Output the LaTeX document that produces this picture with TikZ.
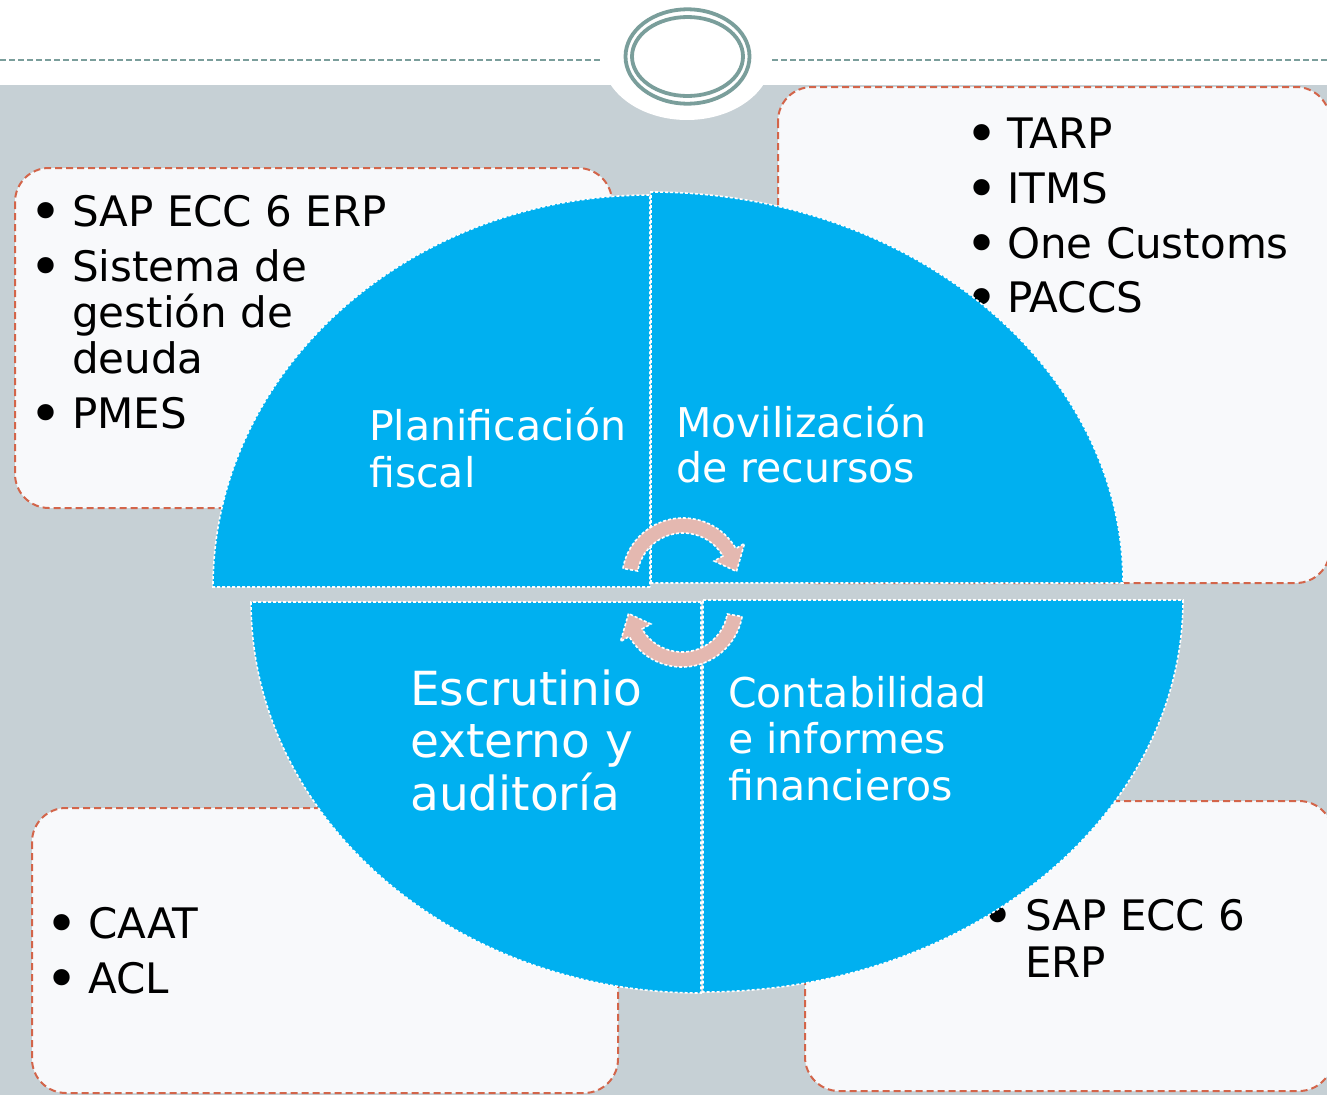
\documentclass[tikz,border=0pt]{standalone}
\usepackage{fontspec}
\setmainfont{DejaVu Sans}
\definecolor{bggray}{HTML}{C6D0D5}
\definecolor{ringcol}{HTML}{7A9E9B}
\definecolor{boxfill}{HTML}{F8F9FB}
\definecolor{boxline}{HTML}{D3654A}
\definecolor{segblue}{HTML}{00B0F0}
\definecolor{arrowpink}{HTML}{E4B8B0}
\begin{document}
\begin{tikzpicture}[x=1pt,y=1pt,
  seg/.style={fill=segblue, draw=white, line width=1.6pt, dash pattern=on 3pt off 2pt},
  infobox/.style={fill=boxfill, draw=boxline, line width=2pt, dash pattern=on 7pt off 4pt, rounded corners=34pt},
  arr/.style={fill=arrowpink, draw=white, line width=1.6pt, dash pattern=on 3pt off 2pt},
  boxtxt/.style={anchor=base west, inner sep=0pt, text=black, font=\fontsize{42}{46}\selectfont},
  bul/.style={anchor=base, inner sep=0pt, text=black, yshift=-5pt, font=\fontsize{56}{60}\selectfont},
  segtxt/.style={anchor=base west, inner sep=0pt, text=white, font=\fontsize{41}{46.5}\selectfont},
  bigtxt/.style={anchor=base west, inner sep=0pt, text=white, font=\fontsize{47}{52.5}\selectfont},
  ring/.style={draw=ringcol, line width=3.8pt},
  topline/.style={draw=ringcol, line width=1.3pt, dash pattern=on 6pt off 3pt}
]
\useasboundingbox (0,0) rectangle (1327,-1095);
% background
\fill[white] (0,0) rectangle (1327,-85);
\fill[bggray] (0,-85) rectangle (1327,-1095);
\fill[white] (687,-57) ellipse [x radius=85, y radius=63];
\coordinate (l1) at (0,-60);
\coordinate (l2) at (601,-60);
\coordinate (r1) at (772,-60);
\coordinate (r2) at (1327,-60);
\draw[topline] (l1) -- (l2);
\draw[topline] (r1) -- (r2);
\draw[ring] (687.5,-56.5) ellipse [x radius=62, y radius=47.2];
\draw[ring] (687.5,-56.5) ellipse [x radius=55.5, y radius=39.5];

% boxes
\draw[infobox] (15,-168) rectangle (612,-508);
\draw[infobox] (778,-87) rectangle (1330,-583);
\draw[infobox] (32,-808) rectangle (618,-1093);
\draw[infobox] (805,-801) rectangle (1333,-1091);

% box texts
\node[bul] (b1) at (46,-226) {•};
\node[boxtxt] (t1) at (72,-226) {SAP ECC 6 ERP};
\node[bul] (b2) at (46,-281) {•};
\node[boxtxt] (t2a) at (72,-281) {Sistema de};
\node[boxtxt] (t2b) at (72,-327) {gestión de};
\node[boxtxt] (t2c) at (72,-373) {deuda};
\node[bul] (b3) at (46,-428) {•};
\node[boxtxt] (t3) at (72,-428) {PMES};

\node[bul] (b4) at (982,-148) {•};
\node[boxtxt] (t4) at (1007,-148) {TARP};
\node[bul] (b5) at (982,-203) {•};
\node[boxtxt] (t5) at (1007,-203) {ITMS};
\node[bul] (b6) at (982,-258) {•};
\node[boxtxt] (t6) at (1007,-258) {One Customs};
\node[bul] (b7) at (982,-312) {•};
\node[boxtxt] (t7) at (1007,-312) {PACCS};

\node[bul] (b8) at (62,-938) {•};
\node[boxtxt] (t8) at (88,-938) {CAAT};
\node[bul] (b9) at (62,-993) {•};
\node[boxtxt] (t9) at (88,-993) {ACL};

\node[bul] (b10) at (998,-930) {•};
\node[boxtxt] (t10a) at (1025,-930) {SAP ECC 6};
\node[boxtxt] (t10b) at (1025,-977) {ERP};

% pie segments
\path[seg] (650,-587) -- (213,-587) arc[start angle=180, end angle=90, x radius=437, y radius=392] -- cycle;
\path[seg] (651,-583) -- (651,-192) arc[start angle=90, end angle=0, x radius=472, y radius=391] -- cycle;
\path[seg] (701,-602) -- (251,-602) arc[start angle=180, end angle=270, x radius=450, y radius=391] -- cycle;
\path[seg] (703,-600) -- (1183,-600) arc[start angle=0, end angle=-90, x radius=480, y radius=392] -- cycle;

% segment labels
\node[segtxt] (s1a) at (369,-440) {Planificación};
\node[segtxt] (s1b) at (369,-487) {fiscal};
\node[segtxt] (s2a) at (676,-437) {Movilización};
\node[segtxt] (s2b) at (676,-482) {de recursos};
\node[bigtxt] (s3a) at (410,-705) {Escrutinio};
\node[bigtxt] (s3b) at (410,-757) {externo y};
\node[bigtxt] (s3c) at (410,-810) {auditoría};
\node[segtxt] (s4a) at (728,-707) {Contabilidad};
\node[segtxt] (s4b) at (728,-753) {e informes};
\node[segtxt] (s4c) at (728,-800) {financieros};

% cycle arrows
\path[arr, shift={(683,-579)}] (170:61) arc[start angle=170, end angle=30, radius=61] -- (30:71) -- (8:54) -- (30:36) -- (30:46) arc[start angle=30, end angle=170, radius=46] -- cycle;
\path[arr, shift={(682,-606)}, rotate=180] (170:61) arc[start angle=170, end angle=30, radius=61] -- (30:71) -- (8:54) -- (30:36) -- (30:46) arc[start angle=30, end angle=170, radius=46] -- cycle;
\end{tikzpicture}
\end{document}
